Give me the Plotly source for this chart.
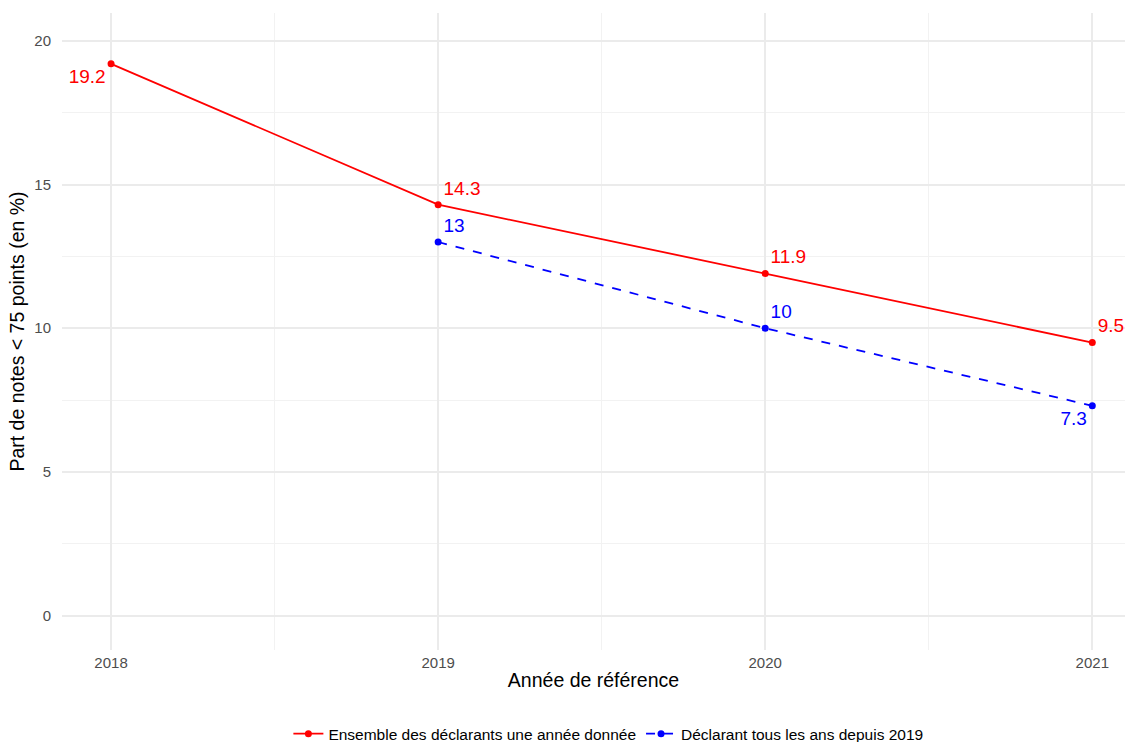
import plotly.graph_objects as go

years_all = [2018, 2019, 2020, 2021]
values_all = [19.2, 14.3, 11.9, 9.5]
pos_all = ["bottom left", "top right", "top right", "top right"]

years_const = [2019, 2020, 2021]
values_const = [13, 10, 7.3]
pos_const = ["top right", "top right", "bottom left"]

name_all = "Ensemble des déclarants une année donnée"
name_const = "Déclarant tous les ans depuis 2019"

FONT = "Liberation Sans, Arial, sans-serif"

fig = go.Figure()
fig.add_trace(go.Scatter(
    x=years_all, y=values_all, mode="lines+markers+text", name=name_all,
    line=dict(color="#FF0000", width=1.8), marker=dict(color="#FF0000", size=7),
    text=[str(v) for v in values_all], textposition=pos_all, cliponaxis=False,
    textfont=dict(color="#FF0000", size=19, family=FONT),
))
fig.add_trace(go.Scatter(
    x=years_const, y=values_const, mode="lines+markers+text", name=name_const,
    line=dict(color="#0000FF", width=1.8, dash="dash"), marker=dict(color="#0000FF", size=7),
    text=[str(v) for v in values_const], textposition=pos_const, cliponaxis=False,
    textfont=dict(color="#0000FF", size=19, family=FONT),
))

grid = "#EBEBEB"
fig.update_layout(
    width=1132, height=742,
    margin=dict(l=62, r=7, t=13, b=92, autoexpand=False),
    paper_bgcolor="white", plot_bgcolor="white",
    font=dict(family=FONT, color="black"),
    showlegend=True,
    legend=dict(orientation="h", x=0.514, xanchor="center", y=-0.132, yanchor="middle",
                font=dict(size=15.5, color="black"), itemwidth=30),
    xaxis=dict(
        range=[2017.85, 2021.1], tickvals=years_all, ticktext=[str(y) for y in years_all],
        showgrid=True, gridcolor=grid, gridwidth=1.5, zeroline=False,
        minor=dict(tickvals=[2018.5, 2019.5, 2020.5], showgrid=True, gridcolor="#F2F2F2", gridwidth=1),
        tickfont=dict(size=15, color="#4D4D4D"), ticks="", ticklabelstandoff=2,
        title=dict(text="Année de référence", font=dict(size=19.5, color="black"), standoff=3),
    ),
    yaxis=dict(
        range=[-1.2, 20.97], tickvals=[0, 5, 10, 15, 20],
        showgrid=True, gridcolor=grid, gridwidth=1.5, zeroline=False,
        minor=dict(tickvals=[2.5, 7.5, 12.5, 17.5], showgrid=True, gridcolor="#F2F2F2", gridwidth=1),
        tickfont=dict(size=15, color="#4D4D4D"), ticks="", ticklabelstandoff=10,
        title=dict(text="Part de notes < 75 points (en %)", font=dict(size=19.5, color="black"), standoff=4),
    ),
)

fig.write_html("out.html", config={"displayModeBar": False},
               post_script="document.body.style.margin='0';document.body.style.overflow='hidden';")
